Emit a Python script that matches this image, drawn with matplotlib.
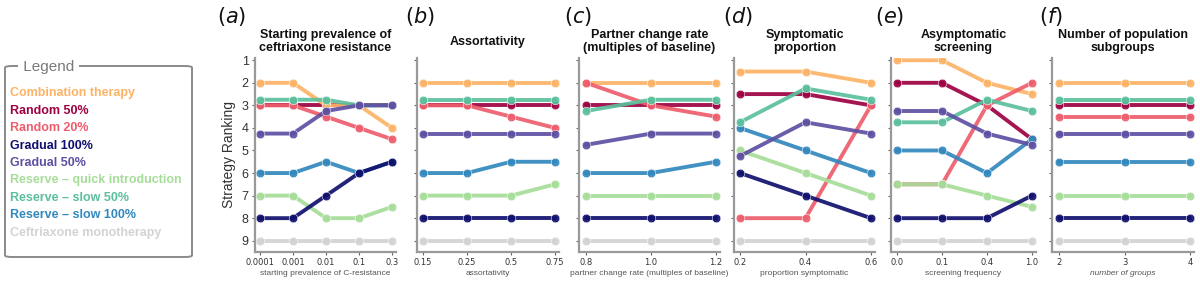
import matplotlib.pyplot as plt
from matplotlib.patches import FancyBboxPatch

plt.rcParams['font.family'] = ['Liberation Sans', 'DejaVu Sans']

# strategies (legend order) and their colours
strategies = ['Combination therapy', 'Random 50%', 'Random 20%', 'Gradual 100%', 'Gradual 50%',
              'Reserve \u2013 quick introduction', 'Reserve \u2013 slow 50%', 'Reserve \u2013 slow 100%',
              'Ceftriaxone monotherapy']
colors = ['#fdb366', '#9e0142', '#ee5d6c', '#10106e', '#5e4fa2',
          '#a6dd98', '#5bbf9c', '#3288bd', '#d3d3d3']
# drawing order (bottom -> top)
draw_order = [1, 0, 2, 7, 5, 6, 4, 3, 8]

titles = ['Starting prevalence of\nceftriaxone resistance', 'Assortativity',
          'Partner change rate\n(multiples of baseline)', 'Symptomatic\nproportion',
          'Asymptomatic\nscreening', 'Number of population\nsubgroups']
xlabels = ['starting prevalence of C-resistance', 'assortativity',
           'partner change rate (multiples of baseline)', 'proportion symptomatic',
           'screening frequency', 'number of groups']
panel_tags = ['a', 'b', 'c', 'd', 'e', 'f']

x_a = ['0.0001', '0.001', '0.01', '0.1', '0.3']
x_b = ['0.15', '0.25', '0.5', '0.75']
x_c = ['0.8', '1.0', '1.2']
x_d = ['0.2', '0.4', '0.6']
x_e = ['0.0', '0.1', '0.4', '1.0']
x_f = ['2', '3', '4']

# rankings per strategy, same order as `strategies`
rank_a = [[2, 2, 3, 3, 4], [3, 3, 3, 3, 3], [3, 3, 3.5, 4, 4.5], [8, 8, 7, 6, 5.5],
          [4.25, 4.25, 3.25, 3, 3], [7, 7, 8, 8, 7.5], [2.75, 2.75, 2.75, 3, 3],
          [6, 6, 5.5, 6, 5.5], [9, 9, 9, 9, 9]]
rank_b = [[2, 2, 2, 2], [3, 3, 3, 3], [3, 3, 3.5, 4], [8, 8, 8, 8],
          [4.25, 4.25, 4.25, 4.25], [7, 7, 7, 6.5], [2.75, 2.75, 2.75, 2.75],
          [6, 6, 5.5, 5.5], [9, 9, 9, 9]]
rank_c = [[2, 2, 2], [3, 3, 3], [2, 3, 3.5], [8, 8, 8],
          [4.75, 4.25, 4.25], [7, 7, 7], [3.25, 2.75, 2.75],
          [6, 6, 5.5], [9, 9, 9]]
rank_d = [[1.5, 1.5, 2], [2.5, 2.5, 3], [8, 8, 3], [6, 7, 8],
          [5.25, 3.75, 4.25], [5, 6, 7], [3.75, 2.25, 2.75],
          [4, 5, 6], [9, 9, 9]]
rank_e = [[1, 1, 2, 2.5], [2, 2, 3, 4.5], [6.5, 6.5, 3, 2], [8, 8, 8, 7],
          [3.25, 3.25, 4.25, 4.75], [6.5, 6.5, 7, 7.5], [3.75, 3.75, 2.75, 3.25],
          [5, 5, 6, 4.5], [9, 9, 9, 9]]
rank_f = [[2, 2, 2], [3, 3, 3], [3.5, 3.5, 3.5], [8, 8, 8],
          [4.25, 4.25, 4.25], [7, 7, 7], [2.75, 2.75, 2.75],
          [5.5, 5.5, 5.5], [9, 9, 9]]

xs = [x_a, x_b, x_c, x_d, x_e, x_f]
ranks = [rank_a, rank_b, rank_c, rank_d, rank_e, rank_f]

W, H = 1200, 281
fig = plt.figure(figsize=(W / 100, H / 100), dpi=100)

# panel geometry in pixels: spine x, first point x, last point x
geo = [(255, 260, 392), (417, 423, 555), (579, 586, 716),
       (734, 740, 871), (891, 897, 1032), (1052, 1059, 1190)]
tag_x = [232, 420, 578, 738, 890, 1051]
top_px, bot_px = 58, 252

for i in range(6):
    spine, first, last = geo[i]
    right = last + 4
    ax = fig.add_axes([spine / W, 1 - bot_px / H, (right - spine) / W, (bot_px - top_px) / H])
    n = len(xs[i])
    ppu = (last - first) / (n - 1)
    ax.set_xlim(-(first - spine) / ppu, (n - 1) + (right - last) / ppu)
    ax.set_ylim(9.5, 0.9)
    for k in draw_order:
        ax.plot(range(n), ranks[i][k], color=colors[k], lw=2.8, marker='o', ms=6.2,
                mec='white', mew=0.4, alpha=0.92, solid_capstyle='round')
    ax.set_xticks(range(n))
    ax.set_xticklabels(xs[i], fontsize=6, color='#333333', family='DejaVu Sans')
    ax.set_yticks(range(1, 10))
    ax.tick_params(axis='both', length=2.5, width=0.8, color='#666666', pad=2)
    if i == 0:
        ax.set_yticklabels([str(v) for v in range(1, 10)], fontsize=9, color='#333333')
        ax.set_ylabel('Strategy Ranking', fontsize=10, color='#333333', labelpad=4)
    else:
        ax.set_yticklabels([])
    ax.set_xlabel(xlabels[i], fontsize=6, color='#555555', labelpad=2,
                  style='italic' if i == 5 else 'normal')
    for s in ['top', 'right']:
        ax.spines[s].set_visible(False)
    for s in ['left', 'bottom']:
        ax.spines[s].set_color('#999999')
        ax.spines[s].set_linewidth(1.6)
    cx = (spine + right) / 2 / W
    fig.text(cx, 1 - 41.5 / H, titles[i], ha='center', va='center', fontsize=9,
             fontweight='bold', color='#111111', linespacing=1.15)
    fig.text(tag_x[i] / W, 1 - 16 / H, '$(' + panel_tags[i] + ')$', ha='center', va='center',
             fontsize=15, color='#111111')

# legend box
box = FancyBboxPatch((5 / W, 1 - 257 / H), 187 / W, 191 / H,
                     boxstyle='round,pad=0,rounding_size=0.006', transform=fig.transFigure,
                     fill=False, edgecolor='#8a8a8a', linewidth=1.4)
fig.add_artist(box)
fig.text(19 / W, 1 - 66.5 / H, ' Legend ', fontsize=11, color='#7a7a7a', va='center', ha='left',
         bbox=dict(facecolor='white', edgecolor='none', pad=0.5))
for j, (name, c) in enumerate(zip(strategies, colors)):
    fig.text(10 / W, 1 - (93 + 17.5 * j) / H, name, color=c, fontsize=9, fontweight='bold',
             va='center', ha='left')

fig.savefig('out.png', dpi=100)
